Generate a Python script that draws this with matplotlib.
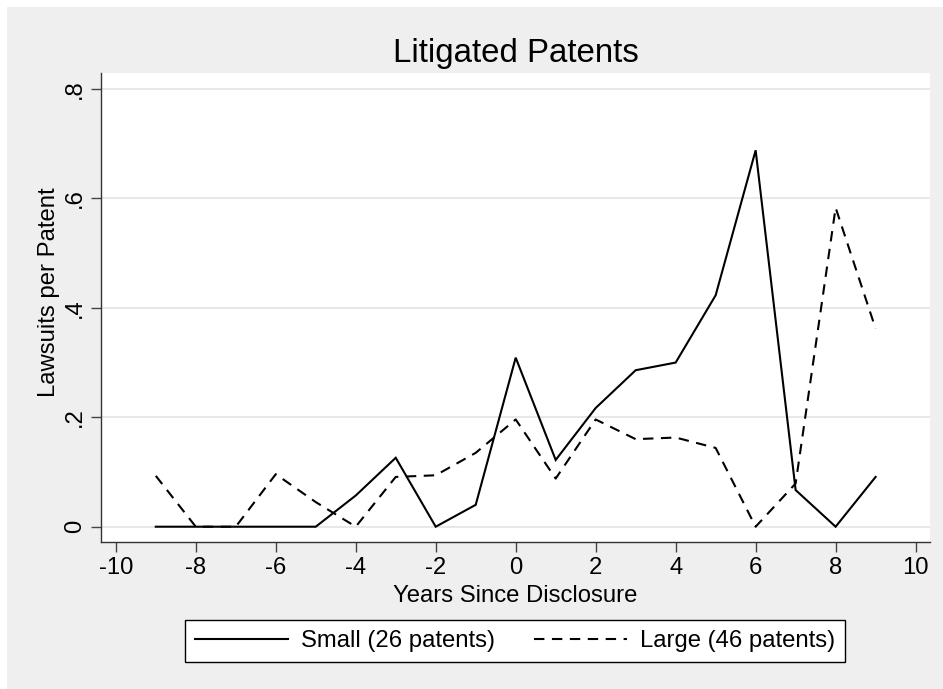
import matplotlib
matplotlib.use("Agg")
import matplotlib.pyplot as plt
from matplotlib.patches import Rectangle

plt.rcParams['font.family'] = ['Liberation Sans', 'DejaVu Sans']
plt.rcParams['axes.unicode_minus'] = False

# years since disclosure
years = [-9, -8, -7, -6, -5, -4, -3, -2, -1, 0, 1, 2, 3, 4, 5, 6, 7, 8, 9]
# lawsuits per patent
small = [0, 0, 0, 0, 0, 0.057, 0.126, 0, 0.040, 0.309, 0.122, 0.217, 0.286,
         0.300, 0.423, 0.688, 0.067, 0, 0.091]
large = [0.093, 0, 0, 0.096, 0.045, 0, 0.091, 0.094, 0.135, 0.196, 0.088, 0.196,
         0.160, 0.163, 0.144, 0, 0.079, 0.583, 0.362]

x_ticks = list(range(-10, 11, 2))
y_ticks = [0, 0.2, 0.4, 0.6, 0.8]
y_tick_labels = ['0', '.2', '.4', '.6', '.8']

W, H = 943, 689
fs = 17.2
fig = plt.figure(figsize=(W / 100, H / 100), dpi=100, facecolor='white')
fig.add_artist(Rectangle((7 / W, 0), 1 - 7 / W, 1 - 7 / H, transform=fig.transFigure,
                         facecolor='#efefef', edgecolor='none', zorder=-10))

left, right, top, bottom = 101, 930, 73.3, 541.7
ax = fig.add_axes([left / W, 1 - bottom / H, (right - left) / W, (bottom - top) / H])
ax.set_facecolor('white')

l1, = ax.plot(years, small, color='black', lw=1.5, solid_joinstyle='miter')
l2, = ax.plot(years, large, color='black', lw=1.5, linestyle=(0, (5.0, 3.6)))

ax.set_xlim(-10.37, 10.36)
ax.set_ylim(-0.0274, 0.8287)
ax.set_xticks(x_ticks)
ax.set_yticks(y_ticks)
ax.set_yticklabels(y_tick_labels)
ax.grid(axis='y', color='#e8e8e8', lw=1.4)
ax.set_axisbelow(True)

for s in ['top', 'right']:
    ax.spines[s].set_visible(False)
for s in ['left', 'bottom']:
    ax.spines[s].set_color('#333333')
    ax.spines[s].set_linewidth(1.0)

ax.tick_params(axis='both', direction='out', length=7.2, width=1.0, color='#444444',
               labelsize=fs, labelcolor='black')
ax.tick_params(axis='x', pad=3.5)
ax.tick_params(axis='y', pad=3.5)
plt.setp(ax.get_yticklabels(), rotation=90, va='center', ha='right')

fig.text(515.5 / W, 1 - 61.7 / H, 'Litigated Patents', ha='center', va='baseline',
         fontsize=23.8)
fig.text(515.5 / W, 1 - 601.7 / H, 'Years Since Disclosure', ha='center', va='baseline',
         fontsize=fs)
fig.text(55 / W, 1 - 292.5 / H, 'Lawsuits per Patent', ha='center', va='baseline',
         rotation=90, rotation_mode='anchor', fontsize=fs)

leg = fig.legend([l1, l2], ['Small (26 patents)', 'Large (46 patents)'], ncol=2,
                 loc='center', bbox_to_anchor=(515 / W, 1 - 641 / H), fontsize=fs,
                 frameon=True, fancybox=False, shadow=False, framealpha=1,
                 edgecolor='black', facecolor='white', handlelength=3.9,
                 handletextpad=0.55, columnspacing=1.6, borderpad=0.4)
leg.get_frame().set_linewidth(1.0)

fig.savefig('out.png', dpi=100, facecolor=fig.get_facecolor())
